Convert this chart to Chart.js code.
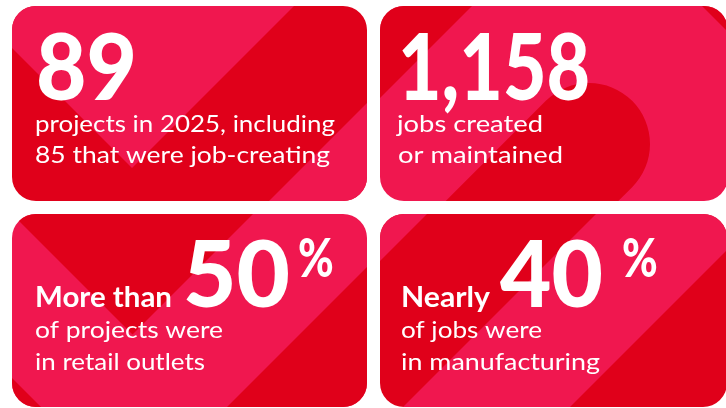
<!DOCTYPE html>
<html>
<head>
<meta charset="utf-8">
<script src="https://cdn.jsdelivr.net/npm/chart.js@4.4.0/dist/chart.umd.min.js"></script>
<style>
  html, body { margin: 0; padding: 0; background: #ffffff; }
  #wrap { width: 726px; height: 408px; position: relative; }
</style>
</head>
<body>
<div id="wrap"><canvas id="c"></canvas></div>
<script>
// ---- data ----
const statNumbers = ['89', '1,158', '50', '40'];
const statSuffix = ['', '', '%', '%'];
const statLead = ['', '', 'More than', 'Nearly'];
const captionLine1 = ['projects in 2025, including', 'jobs created', 'of projects were', 'of jobs were'];
const captionLine2 = ['85 that were job-creating', 'or maintained', 'in retail outlets', 'in manufacturing'];

// ---- style / layout ----
const PINK = '#F0174F';
const DARK = '#E0001A';
const FONT = 'Lato, "Open Sans", sans-serif';

const tiles = [
  { x: 12,  y: 6,   w: 355, h: 195, base: DARK },
  { x: 380, y: 6,   w: 348, h: 195, base: PINK },
  { x: 12,  y: 214, w: 355, h: 193, base: PINK },
  { x: 380, y: 214, w: 347, h: 193, base: DARK }
];

// text layout per tile
const layout = [
  { num: { x: 36,  b: 100, w: 101 }, cap1: { x: 35,  b: 132, w: 300 }, cap2: { x: 35,  b: 163, w: 295 } },
  { num: { x: 398, b: 100, w: 192 }, cap1: { x: 397, b: 132, w: 146 }, cap2: { x: 398, b: 163, w: 165 } },
  { lead: { x: 35, b: 307, w: 137 }, num: { x: 183, b: 307, w: 107 }, pct: { x: 298, b: 277, w: 32 },
    cap1: { x: 35, b: 338, w: 188 }, cap2: { x: 35, b: 370, w: 170 } },
  { lead: { x: 401, b: 307, w: 89 }, num: { x: 500, b: 307, w: 103 }, pct: { x: 622, b: 277, w: 32 },
    cap1: { x: 401, b: 338, w: 141 }, cap2: { x: 401, b: 370, w: 199 } }
];

function roundRect(ctx, x, y, w, h, r) {
  ctx.beginPath();
  ctx.moveTo(x + r, y);
  ctx.lineTo(x + w - r, y);
  ctx.arcTo(x + w, y, x + w, y + r, r);
  ctx.lineTo(x + w, y + h - r);
  ctx.arcTo(x + w, y + h, x + w - r, y + h, r);
  ctx.lineTo(x + r, y + h);
  ctx.arcTo(x, y + h, x, y + h - r, r);
  ctx.lineTo(x, y + r);
  ctx.arcTo(x, y, x + r, y, r);
  ctx.closePath();
}

function poly(ctx, pts, color) {
  ctx.beginPath();
  ctx.moveTo(pts[0][0], pts[0][1]);
  for (let i = 1; i < pts.length; i++) ctx.lineTo(pts[i][0], pts[i][1]);
  ctx.closePath();
  ctx.fillStyle = color;
  ctx.fill();
}

function drawShapes(ctx, i) {
  if (i === 0) {
    poly(ctx, [[-50, -14], [132, 168], [310, -10]], PINK);
    poly(ctx, [[250, 220], [400, 70], [400, 220]], PINK);
  } else if (i === 1) {
    poly(ctx, [[360, 118], [490, -12], [360, -12]], DARK);
    poly(ctx, [[690, -6], [740, 44], [740, -6]], DARK);
    ctx.beginPath();
    ctx.moveTo(589, 144);
    ctx.lineTo(389, 344);
    ctx.lineWidth = 122;
    ctx.lineCap = 'round';
    ctx.strokeStyle = DARK;
    ctx.stroke();
  } else if (i === 2) {
    poly(ctx, [[-2, 200], [132.5, 334.5], [267, 200]], DARK);
    poly(ctx, [[214, 420], [380, 254], [380, 420]], DARK);
    poly(ctx, [[0, 366], [60, 426], [0, 426]], DARK);
  } else {
    poly(ctx, [[370, 271], [450, 191], [370, 191]], PINK);
    poly(ctx, [[620, 190], [787, 190], [547, 430], [380, 430]], PINK);
  }
}

function fitText(ctx, text, pos, font) {
  ctx.font = font;
  const m = ctx.measureText(text).width;
  let sx = pos.w / m;
  sx = Math.max(0.8, Math.min(1.25, sx));
  ctx.save();
  ctx.translate(pos.x, pos.b);
  ctx.scale(sx, 1);
  ctx.fillText(text, 0, 0);
  ctx.restore();
}

const tilePlugin = {
  id: 'tiles',
  beforeDraw(chart) {
    const ctx = chart.ctx;
    ctx.save();
    ctx.fillStyle = '#ffffff';
    ctx.fillRect(0, 0, chart.width, chart.height);
    tiles.forEach((t, i) => {
      ctx.save();
      roundRect(ctx, t.x, t.y, t.w, t.h, 24);
      ctx.fillStyle = t.base;
      ctx.fill();
      ctx.clip();
      drawShapes(ctx, i);
      ctx.restore();

      const L = layout[i];
      ctx.fillStyle = '#ffffff';
      ctx.textBaseline = 'alphabetic';
      ctx.textAlign = 'left';
      fitText(ctx, statNumbers[i], L.num, '900 92px ' + FONT);
      if (statSuffix[i]) fitText(ctx, statSuffix[i], L.pct, '900 54px ' + FONT);
      if (statLead[i]) fitText(ctx, statLead[i], L.lead, '700 28px ' + FONT);
      fitText(ctx, captionLine1[i], L.cap1, '400 24px ' + FONT);
      fitText(ctx, captionLine2[i], L.cap2, '400 24px ' + FONT);
    });
    ctx.restore();
  }
};

new Chart(document.getElementById('c'), {
  type: 'bar',
  data: {
    labels: statNumbers,
    datasets: [{ label: 'stats', data: [], backgroundColor: 'rgba(0,0,0,0)' }]
  },
  options: {
    responsive: true,
    maintainAspectRatio: false,
    animation: false,
    layout: { padding: 0 },
    plugins: { legend: { display: false }, tooltip: { enabled: false } },
    scales: { x: { display: false }, y: { display: false } }
  },
  plugins: [tilePlugin]
});
</script>
</body>
</html>
